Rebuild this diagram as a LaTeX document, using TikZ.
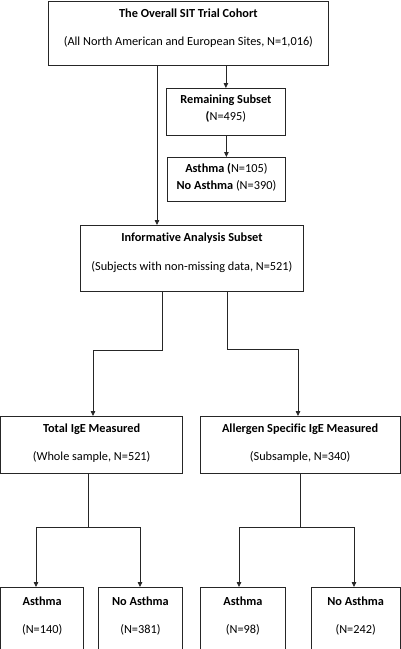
\documentclass[tikz,border=0pt]{standalone}
\usepackage{fontspec}
\setmainfont{Carlito}[Ligatures=NoCommon]
\usetikzlibrary{arrows.meta}
\begin{document}
\begin{tikzpicture}[x=1pt,y=-1pt,
  box/.style={draw=black!85, line width=0.8pt, inner sep=0pt, anchor=north west},
  ttl/.style={font=\fontsize{12.3}{14}\selectfont\bfseries, inner sep=0pt},
  sub/.style={font=\fontsize{12.3}{14}\selectfont, inner sep=0pt},
  arr/.style={-{Triangle[length=5pt,width=4.5pt]}, line width=0.8pt, draw=black!85},
  ln/.style={line width=0.8pt, draw=black!85}]
\useasboundingbox (0,0) rectangle (400,649);
% boxes
\node[box, minimum width=280pt, minimum height=64.5pt] (top) at (48,0.5) {};
\node[box, minimum width=119pt, minimum height=47pt] (rem) at (166,88) {};
\node[box, minimum width=118pt, minimum height=44pt] (asth) at (167,157) {};
\node[box, minimum width=223pt, minimum height=66pt] (info) at (80,225) {};
\node[box, minimum width=181.5pt, minimum height=57pt] (tot) at (0.5,416) {};
\node[box, minimum width=199.5pt, minimum height=57pt] (all) at (200,416) {};
\node[box, minimum width=82.5pt, minimum height=66pt] (ta) at (0.5,587) {};
\node[box, minimum width=84pt, minimum height=66pt] (tn) at (98,587) {};
\node[box, minimum width=85pt, minimum height=66pt] (aa) at (200,587) {};
\node[box, minimum width=88.5pt, minimum height=66pt] (an) at (311,587) {};
% texts
\node[ttl] (topT) at (top.north |- 0,13) {The Overall SIT Trial Cohort};
\node[sub] (topS) at (top.north |- 0,42) {(All North American and European Sites, N=1,016)};
\node[ttl] (remT) at (rem.north |- 0,100) {Remaining Subset};
\node[sub] (remS) at (rem.north |- 0,117) {\textbf{(}N=495)};
\node[sub] (asthA) at (asth.north |- 0,169) {\textbf{Asthma (}N=105)};
\node[sub] (asthN) at (asth.north |- 0,186) {\textbf{No Asthma} (N=390)};
\node[ttl] (infoT) at (info.north |- 0,238) {Informative Analysis Subset};
\node[sub] (infoS) at (info.north |- 0,267) {(Subjects with non-missing data, N=521)};
\node[ttl] (totT) at (tot.north |- 0,429) {Total IgE Measured};
\node[sub] (totS) at (tot.north |- 0,457) {(Whole sample, N=521)};
\node[ttl] (allT) at (all.north |- 0,429) {Allergen Specific IgE Measured};
\node[sub] (allS) at (all.north |- 0,457) {(Subsample, N=340)};
\node[ttl] (taT) at (ta.north |- 0,601) {Asthma};
\node[sub] (taS) at (ta.north |- 0,630) {(N=140)};
\node[ttl] (tnT) at (tn.north |- 0,601) {No Asthma};
\node[sub] (tnS) at (tn.north |- 0,630) {(N=381)};
\node[ttl] (aaT) at (aa.north |- 0,601) {Asthma};
\node[sub] (aaS) at (aa.north |- 0,630) {(N=98)};
\node[ttl] (anT) at (an.north |- 0,601) {No Asthma};
\node[sub] (anS) at (an.north |- 0,630) {(N=242)};
% helper coordinates
\coordinate (xa) at (157,0);
\coordinate (xb) at (162,350);
\coordinate (xc) at (93,350);
\coordinate (xd) at (227,349);
\coordinate (xe) at (298,349);
\coordinate (xf) at (88,527);
\coordinate (xg) at (36,527);
\coordinate (xh) at (140,527);
\coordinate (xi) at (300,527);
\coordinate (xj) at (239,527);
\coordinate (xk) at (354,527);
% connectors
\draw[arr] (rem.north |- top.south) -- (rem.north);
\draw[arr] (asth.north |- rem.south) -- (asth.north);
\draw[arr] (xa |- top.south) -- (xa |- info.north);
\draw[arr] (xb |- info.south) -- (xb) -- (xc) -- (xc |- tot.north);
\draw[arr] (xd |- info.south) -- (xd) -- (xe) -- (xe |- all.north);
\draw[ln] (xf |- tot.south) -- (xf);
\draw[ln] (xg) -- (xh);
\draw[arr] (xg) -- (xg |- ta.north);
\draw[arr] (xh) -- (xh |- tn.north);
\draw[ln] (xi |- all.south) -- (xi);
\draw[ln] (xj) -- (xk);
\draw[arr] (xj) -- (xj |- aa.north);
\draw[arr] (xk) -- (xk |- an.north);
\end{tikzpicture}
\end{document}
